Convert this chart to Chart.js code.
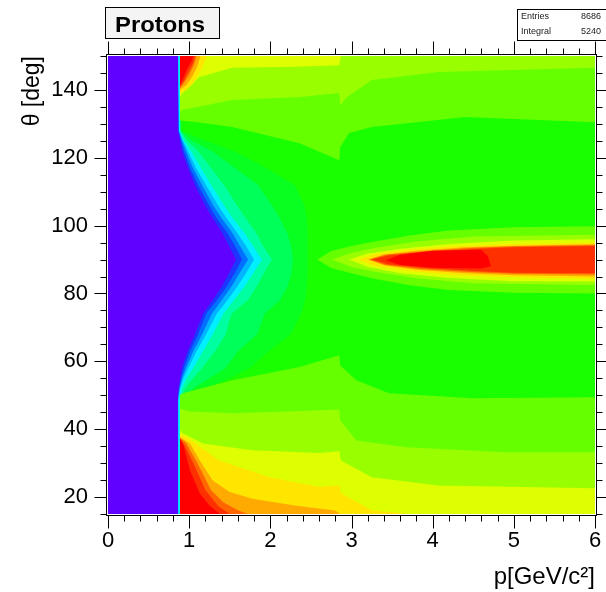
<!DOCTYPE html>
<html>
<head>
<meta charset="utf-8">
<script src="https://cdn.jsdelivr.net/npm/chart.js@4.4.1/dist/chart.umd.min.js"></script>
<style>
  html, body { margin: 0; padding: 0; background: #fff; }
  #wrap { width: 606px; height: 592px; }
</style>
</head>
<body>
<div id="wrap"><canvas id="protonMap" width="606" height="592"></canvas></div>
<script>
// contour colours, from empty bins up to the maximum
const levelColors = [
    "#6000ff", "#1c36ff", "#0070ff", "#00b4ff", "#00f0ff",
    "#00ffa0", "#00ff58", "#08ff20", "#1aff00", "#66ff00",
    "#99ff00", "#ddff00", "#ffe600", "#ffaa00", "#ff6600",
    "#ff3000", "#ff0000"
];

// axis range and ticks
const pMin = 0, pMax = 6;
const thetaMin = 15, thetaMax = 150;
const pTicks = [0, 1, 2, 3, 4, 5, 6];
const thetaTicks = [20, 40, 60, 80, 100, 120, 140];

// stats
const entries = 8686;
const integral = 5240;

// left edge of each low band (p in GeV/c at these theta values)
const edgeTheta = [150, 128, 125, 122, 117, 112, 106, 102, 98, 94, 90,
                   86, 82, 78, 74, 68, 63, 58, 55, 52, 48.5, 15];
const edgeBlue   = [0.862, 0.862, 0.887, 0.912, 0.986, 1.072, 1.195, 1.294, 1.404, 1.491, 1.577,
                    1.49, 1.40, 1.29, 1.17, 1.07, 0.98, 0.91, 0.89, 0.87, 0.862, 0.862];
const edgeAzure  = [0.862, 0.869, 0.899, 0.936, 1.010, 1.109, 1.244, 1.343, 1.466, 1.565, 1.651,
                    1.56, 1.46, 1.34, 1.21, 1.11, 1.01, 0.935, 0.90, 0.875, 0.862, 0.862];
const edgeSky    = [0.862, 0.875, 0.912, 0.961, 1.047, 1.158, 1.294, 1.404, 1.528, 1.626, 1.725,
                    1.62, 1.52, 1.40, 1.28, 1.16, 1.05, 0.96, 0.915, 0.88, 0.862, 0.862];
const edgeCyan   = [0.867, 0.875, 0.924, 0.986, 1.084, 1.207, 1.355, 1.466, 1.589, 1.700, 1.799,
                    1.70, 1.59, 1.47, 1.34, 1.21, 1.09, 0.99, 0.93, 0.89, 0.867, 0.867];
const edgeAqua   = [0.887, 0.887, 0.936, 1.023, 1.146, 1.269, 1.429, 1.540, 1.676, 1.786, 1.897,
                    1.79, 1.68, 1.55, 1.42, 1.29, 1.17, 1.05, 0.97, 0.91, 0.887, 0.887];
const edgeSpring = [0.887, 0.893, 0.973, 1.109, 1.269, 1.429, 1.589, 1.700, 1.823, 1.910, 2.020,
                    1.92, 1.83, 1.72, 1.52, 1.45, 1.32, 1.16, 1.05, 0.95, 0.89, 0.887];
const edgeMint   = [0.887, 0.899, 1.035, 1.281, 1.565, 1.848, 2.020, 2.119, 2.205, 2.255, 2.279,
                    2.26, 2.21, 2.12, 1.93, 1.84, 1.60, 1.45, 1.25, 1.05, 0.91, 0.887];
const edgeGreen  = [0.887, 0.905, 1.20, 1.55, 1.95, 2.30, 2.42, 2.45, 2.46, 2.46, 2.46,
                    2.46, 2.45, 2.43, 2.38, 2.25, 1.98, 1.75, 1.50, 1.20, 0.95, 0.887];

// backward band (theta > 130), [p, theta]
const topLime = [[0.887,150],[6,150],[6,130.5],[4.4,132],[3.25,129.1],[2.97,127.3],[2.86,123.2],
                 [2.85,119.3],[2.36,124.3],[1.53,129.1],[1.1,130.5],[0.887,131]];
const topChartreuse = [[0.887,150],[6,150],[6,146.5],[4.07,145.3],[3.25,142.9],[2.95,138],[2.86,135.5],
                       [2.85,139.1],[2.36,137.9],[1.53,137],[0.91,134.1],[0.887,133.5]];
const topYellowGreen = [[0.887,150],[2.87,150],[2.85,147.3],[2.3,146.8],[1.53,146.5],[1.13,143.8],
                        [0.95,140],[0.887,138]];
const topYellow = [[0.887,150],[1.22,150],[1.16,146.5],[1.05,142],[0.96,139.8],[0.887,139.3]];
const topAmber = [[0.887,150],[1.14,150],[1.1,147],[1.04,144],[0.97,141.5],[0.887,140]];
const topOrange = [[0.887,150],[1.09,150],[1.06,147.5],[1.0,144.5],[0.93,141.8],[0.887,140.5]];
const topScarlet = [[0.887,150],[1.07,150],[1.05,148],[0.99,145.3],[0.93,142.5],[0.887,141]];
const topRed = [[0.887,150],[1.05,150],[1.03,148.5],[0.97,146],[0.92,143],[0.887,141.3]];

// ridge at theta ~ 90
const peakLime = [[2.58,90],[2.75,92.5],[3.0,94],[3.25,95.2],[3.7,97],[4.2,98.6],[5,99.5],[6,99.8],
                  [6,80],[5,80.2],[4.2,81],[3.7,82.5],[3.25,84.5],[3.0,86],[2.75,87.5]];
const peakChartreuse = [[2.76,90],[3.0,92],[3.3,93.5],[3.8,95.3],[4.5,96.8],[6,97.3],
                        [6,82.5],[4.5,83],[3.8,84.5],[3.3,86.3],[3.0,87.8]];
const peakYellowGreen = [[2.97,90],[3.2,91.8],[3.6,93.2],[4.2,94.6],[5,95.6],[6,96],
                         [6,83.5],[5,83.6],[4.2,84.6],[3.6,86],[3.2,87.8]];
const peakYellow = [[3.09,90],[3.3,91.7],[3.7,92.9],[4.3,94],[5,94.6],[6,95],
                    [6,84.3],[5,84.8],[4.3,85.4],[3.7,86.6],[3.3,88]];
const peakAmber = [[3.2,90],[3.4,91.5],[3.8,92.6],[4.4,93.6],[5,94.1],[6,94.5],
                   [6,85],[5,85.4],[4.4,86],[3.8,87],[3.4,88.3]];
const peakOrange = [[3.22,90],[3.42,91.4],[3.85,92.4],[4.45,93.4],[5,93.9],[6,94.3],
                    [6,85.6],[5,85.8],[4.45,86.3],[3.85,87.2],[3.42,88.4]];
const peakScarlet = [[3.25,90],[3.45,91.2],[3.9,92.2],[4.5,93.1],[5,93.6],[6,94],
                     [6,86],[5,86.1],[4.5,86.6],[3.9,87.5],[3.45,88.6]];
const peakRed = [[3.42,89.8],[3.6,91.4],[4.0,92.6],[4.6,92.9],[4.68,91],[4.72,88],
                 [4.6,87.4],[4.0,87.6],[3.6,88.4]];

// forward band (theta < 60)
const bottomLime = [[0.887,15],[0.887,50],[0.92,50.6],[1.53,54.4],[2.36,58.3],[2.85,61.8],[2.86,58.8],
                    [3.06,54.4],[3.46,50.6],[4.48,49.1],[6,49.4],[6,15]];
const bottomChartreuse = [[0.887,15],[0.887,46],[1.0,45.2],[1.53,44.7],[2.3,45.3],[2.85,45.8],[2.86,42.6],
                          [3.06,36.7],[3.67,34.7],[4.9,33.2],[6,33.2],[6,15]];
const bottomYellowGreen = [[0.887,15],[0.887,40],[0.92,38.8],[1.17,35.8],[1.78,33.8],[2.6,33],[2.85,33.5],
                           [2.87,30.8],[3.25,25.8],[4.07,23.4],[6,22.6],[6,15]];
const bottomYellow = [[0.887,15],[0.887,38.3],[0.97,37.6],[1.37,30.8],[1.99,25.8],[2.6,23],[2.85,23.5],
                      [2.87,21.1],[3.25,16.1],[3.7,15]];
const bottomAmber = [[0.887,15],[0.887,37.6],[1.01,35.8],[1.15,30],[1.29,24.9],[1.5,21.5],[1.78,19.5],
                     [2.3,17.5],[2.8,16],[2.86,15]];
const bottomOrange = [[0.887,15],[0.887,37.4],[0.96,36],[1.1,30],[1.27,22],[1.42,18.5],[1.6,16.1],[1.72,15]];
const bottomScarlet = [[0.887,15],[0.887,37.3],[0.95,35],[1.07,29],[1.2,22],[1.36,17.3],[1.5,15]];
const bottomRed = [[0.887,15],[0.887,37.2],[0.924,35.8],[1.01,27.9],[1.13,21.1],[1.25,17.5],[1.38,15]];

// region right of an edge, closed along the right border
function rightOf(edge) {
    return edgeTheta.map((t, i) => [edge[i], t])
        .concat([[pMax, thetaMin], [pMax, thetaMax]]);
}

const fullArea = [[pMin, thetaMin], [pMax, thetaMin], [pMax, thetaMax], [pMin, thetaMax]];

// painted in this order, higher levels on top
const bands = [
    [0, fullArea],
    [1, rightOf(edgeBlue)],
    [2, rightOf(edgeAzure)],
    [3, rightOf(edgeSky)],
    [4, rightOf(edgeCyan)],
    [5, rightOf(edgeAqua)],
    [6, rightOf(edgeSpring)],
    [7, rightOf(edgeMint)],
    [8, rightOf(edgeGreen)],
    [9, topLime], [9, peakLime], [9, bottomLime],
    [10, topChartreuse], [10, peakChartreuse], [10, bottomChartreuse],
    [11, topYellowGreen], [11, peakYellowGreen], [11, bottomYellowGreen],
    [12, topYellow], [12, peakYellow], [12, bottomYellow],
    [13, topAmber], [13, peakAmber], [13, bottomAmber],
    [14, topOrange], [14, peakOrange], [14, bottomOrange],
    [15, topScarlet], [15, peakScarlet], [15, bottomScarlet],
    [16, topRed], [16, peakRed], [16, bottomRed]
];

// frame, outward ticks on all sides, title box and stats box
const frameBoxes = {
    id: "frameBoxes",
    afterDraw(chart) {
        const ctx = chart.ctx;
        const a = chart.chartArea;
        const xs = chart.scales.x;
        const ys = chart.scales.y;
        const L = a.left - 1.5, R = a.right + 1.5;
        const T = a.top - 1.5, B = a.bottom + 1.5;

        ctx.save();
        ctx.strokeStyle = "#000";
        ctx.lineWidth = 1;
        ctx.strokeRect(L, T, R - L, B - T);

        ctx.beginPath();
        for (let i = 0; i <= 30; i++) {
            const v = i * 0.2;
            const px = Math.round(xs.getPixelForValue(v)) + 0.5;
            const len = i % 5 === 0 ? 13 : 6;
            ctx.moveTo(px, B); ctx.lineTo(px, B + len);
            ctx.moveTo(px, T); ctx.lineTo(px, T - len);
        }
        for (let v = thetaMin; v <= thetaMax; v += 5) {
            const py = Math.round(ys.getPixelForValue(v)) + 0.5;
            const len = v % 20 === 0 ? 12 : 6;
            ctx.moveTo(L, py); ctx.lineTo(L - len, py);
            ctx.moveTo(R, py); ctx.lineTo(R + len, py);
        }
        ctx.stroke();

        // title box
        ctx.fillStyle = "#f4f4f4";
        ctx.fillRect(105.5, 7.5, 114, 31);
        ctx.strokeRect(105.5, 7.5, 114, 31);
        ctx.fillStyle = "#000";
        ctx.font = "bold 22px 'Liberation Sans', Arial, sans-serif";
        const w = ctx.measureText("Protons").width;
        ctx.save();
        ctx.translate(160, 32);
        ctx.scale(90 / w, 1);
        ctx.textAlign = "center";
        ctx.fillText("Protons", 0, 0);
        ctx.restore();

        // stats box
        ctx.fillStyle = "#fff";
        ctx.fillRect(517.5, 9.5, 100, 31);
        ctx.strokeRect(517.5, 9.5, 100, 31);
        ctx.fillStyle = "#222";
        ctx.font = "9px 'Liberation Sans', Arial, sans-serif";
        ctx.textAlign = "left";
        ctx.fillText("Entries", 521, 18.5);
        ctx.fillText("Integral", 521, 33.5);
        ctx.textAlign = "right";
        ctx.fillText(String(entries), 601, 18.5);
        ctx.fillText(String(integral), 601, 33.5);
        ctx.restore();
    }
};

Chart.defaults.font.family = "'Liberation Sans', Arial, sans-serif";
Chart.defaults.color = "#000";

new Chart(document.getElementById("protonMap"), {
    type: "line",
    data: {
        datasets: bands.map(([level, poly], i) => ({
            data: poly.map(([p, t]) => ({ x: p, y: t })),
            backgroundColor: levelColors[level],
            borderColor: "rgba(0,0,0,0)",
            borderWidth: 0,
            pointRadius: 0,
            tension: 0,
            fill: "shape",
            order: -i
        }))
    },
    options: {
        responsive: false,
        animation: false,
        events: [],
        layout: { padding: { top: 56, right: 11, left: 0, bottom: 0 } },
        plugins: {
            legend: { display: false },
            tooltip: { enabled: false }
        },
        scales: {
            x: {
                type: "linear",
                min: pMin,
                max: pMax,
                afterBuildTicks: (axis) => {
                    axis.ticks = pTicks.map(v => ({ value: v }));
                },
                afterFit: (axis) => {
                    axis.height = 78;
                    axis.paddingLeft = 0;
                    axis.paddingRight = 0;
                },
                grid: { display: false, drawTicks: false },
                border: { display: false },
                ticks: { font: { size: 22 }, padding: 14, maxRotation: 0, autoSkip: false },
                title: {
                    display: true,
                    text: "p[GeV/c²]",
                    align: "end",
                    font: { size: 24 },
                    padding: { top: 0, bottom: 0 }
                }
            },
            y: {
                type: "linear",
                min: thetaMin,
                max: thetaMax,
                afterBuildTicks: (axis) => {
                    axis.ticks = thetaTicks.map(v => ({ value: v }));
                },
                afterFit: (axis) => {
                    axis.width = 108;
                    axis.paddingTop = 0;
                    axis.paddingBottom = 0;
                },
                grid: { display: false, drawTicks: false },
                border: { display: false },
                ticks: { font: { size: 22 }, padding: 20, autoSkip: false },
                title: {
                    display: true,
                    text: "θ [deg]",
                    align: "end",
                    font: { size: 23 },
                    padding: { top: 19, bottom: 0 }
                }
            }
        }
    },
    plugins: [frameBoxes]
});
</script>
</body>
</html>
